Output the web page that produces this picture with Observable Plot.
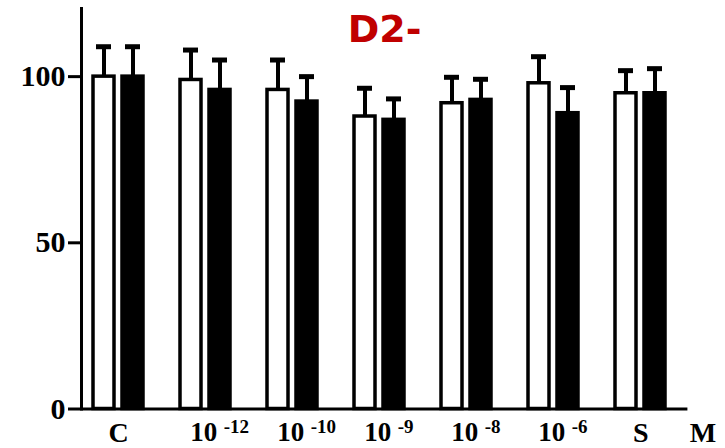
<!DOCTYPE html>
<html>
<head>
<meta charset="utf-8">
<script src="https://cdn.jsdelivr.net/npm/d3@7"></script>
<script src="https://cdn.jsdelivr.net/npm/@observablehq/plot@0.6"></script>
<style>
  html, body { margin: 0; padding: 0; background: #fff; }
  #chart svg { display: block; }
</style>
</head>
<body>
<div id="chart"></div>
<script>
// ---- data ----
const categories = ["C", "e12", "e10", "e9", "e8", "e6", "S"];
const bases      = ["C", "10", "10", "10", "10", "10", "S"];
const exponents  = ["", "-12", "-10", "-9", "-8", "-6", ""];
const whiteMean  = [100, 99, 96, 88, 92, 98, 95];
const whiteErr   = [9, 9, 9, 8.5, 7.8, 8, 6.8];
const blackMean  = [100, 96, 92.5, 87, 93, 89, 95];
const blackErr   = [9, 9, 7.5, 6.3, 6.2, 7.7, 7.4];
const yTicks     = [0, 50, 100];
const title      = "D2-";
const unitLabel  = "M";

// ---- tables built from the arrays ----
const whiteRows = categories.map((c, i) => ({key: c + "|w", mean: whiteMean[i], err: whiteErr[i]}));
const blackRows = categories.map((c, i) => ({key: c + "|b", mean: blackMean[i], err: blackErr[i]}));
const allRows = whiteRows.concat(blackRows);
const xDomain = categories.flatMap((c, i) =>
  i < categories.length - 1 ? [c + "|w", c + "|b", c + "|_"] : [c + "|w", c + "|b"]);
const labelRows = categories.map((c, i) => ({key: c + "|w", base: bases[i], exp: exponents[i]}));

const serif = "'Liberation Serif', 'DejaVu Serif', serif";
const halfStep = 14.7;

const chart = Plot.plot({
  width: 725,
  height: 448,
  marginLeft: 81,
  marginRight: 47.6,
  marginTop: 8,
  marginBottom: 39.5,
  style: {background: "#fff", color: "black", overflow: "visible"},
  x: {type: "band", domain: xDomain, paddingInner: 0.287, paddingOuter: 0.272, align: 0.5, axis: null},
  y: {domain: [0, 120.5]},
  marks: [
    Plot.barY(whiteRows, {x: "key", y: "mean", fill: "white", stroke: "black", strokeWidth: 3.5}),
    Plot.barY(blackRows, {x: "key", y: "mean", fill: "black", stroke: "black", strokeWidth: 3.5}),
    Plot.ruleX(allRows, {x: "key", y1: "mean", y2: d => d.mean + d.err, stroke: "black", strokeWidth: 4}),
    Plot.tickY(allRows, {x: "key", y: d => d.mean + d.err, stroke: "black", strokeWidth: 5, insetLeft: 3, insetRight: 3}),
    Plot.ruleY([0], {stroke: "black", strokeWidth: 3, insetRight: -10}),
    Plot.frame({anchor: "left", stroke: "black", strokeWidth: 3}),
    Plot.axisY({ticks: yTicks, tickSize: 13, tickPadding: 3, label: null, fontSize: 30,
      fontFamily: serif, fontWeight: "bold", strokeWidth: 3, stroke: "black", fill: "black"}),
    Plot.text(labelRows.filter(d => !d.exp), {x: "key", text: "base", frameAnchor: "bottom", lineAnchor: "middle",
      dx: halfStep, dy: 24.5, fontSize: 28, fontFamily: serif, fontWeight: "bold", fill: "black"}),
    Plot.text(labelRows.filter(d => d.exp), {x: "key", text: "base", frameAnchor: "bottom", lineAnchor: "middle",
      dx: halfStep - 2, dy: 23.5, fontSize: 27, fontFamily: serif, fontWeight: "bold", fill: "black"}),
    Plot.text(labelRows.filter(d => d.exp), {x: "key", text: "exp", frameAnchor: "bottom", lineAnchor: "middle",
      textAnchor: "start", dx: halfStep + 18, dy: 17.5, fontSize: 19, fontFamily: serif, fontWeight: "bold", fill: "black"}),
    Plot.text([unitLabel], {frameAnchor: "bottom-right", lineAnchor: "middle", textAnchor: "middle",
      text: d => d, dx: 25, dy: 24, fontSize: 28, fontFamily: serif, fontWeight: "bold", fill: "black"}),
    Plot.text([title], {frameAnchor: "top", lineAnchor: "middle", text: d => d, dx: 5, dy: 21.8,
      fontSize: 38, fontFamily: "'DejaVu Sans', 'Liberation Sans', sans-serif", fontWeight: "bold", fill: "#c00000"})
  ]
});
document.getElementById("chart").appendChild(chart);
</script>
</body>
</html>
